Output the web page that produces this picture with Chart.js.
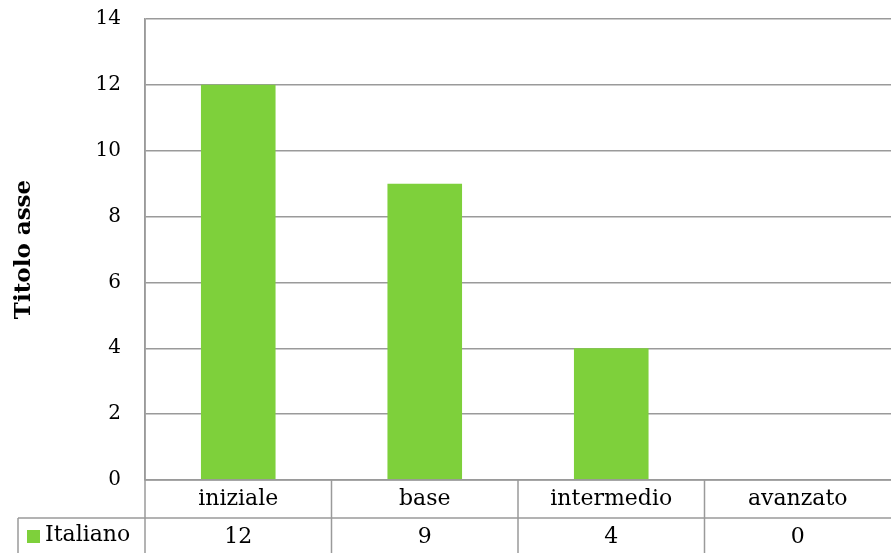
<!DOCTYPE html>
<html>
<head>
<meta charset="utf-8">
<script src="https://cdn.jsdelivr.net/npm/chart.js@4/dist/chart.umd.min.js"></script>
<style>
html,body{margin:0;padding:0;background:#fff;}
#wrap{width:891px;height:553px;position:relative;}
</style>
</head>
<body>
<div id="wrap"><canvas id="c" width="891" height="553"></canvas></div>
<script>
const categories = ['iniziale', 'base', 'intermedio', 'avanzato'];
const seriesName = 'Italiano';
const values = [12, 9, 4, 0];
const yTicks = [0, 2, 4, 6, 8, 10, 12, 14];
const axisTitle = 'Titolo asse';

const GREEN = '#7ED03B';
const LINE = '#9a9a9a';
const FONT = '"DejaVu Serif", "Liberation Serif", serif';

const tablePlugin = {
  id: 'dataTable',
  afterDraw(chart) {
    const ctx = chart.ctx;
    const x = chart.scales.x;
    const area = chart.chartArea;
    const n = categories.length;
    const half = (x.getPixelForValue(1) - x.getPixelForValue(0)) / 2;
    const row1Top = area.bottom;
    const row2Top = area.bottom + 38;
    const bottom = chart.height;
    ctx.save();
    ctx.strokeStyle = LINE;
    ctx.lineWidth = 1.5;
    ctx.beginPath();
    ctx.moveTo(area.left, row1Top); ctx.lineTo(area.right, row1Top);
    ctx.moveTo(18, row2Top); ctx.lineTo(area.right, row2Top);
    ctx.moveTo(18, row2Top); ctx.lineTo(18, bottom);
    ctx.moveTo(area.left, area.top); ctx.lineTo(area.left, bottom);
    for (let i = 0; i < n; i++) {
      const r = x.getPixelForValue(i) + half;
      if (r < area.right - 2) {
        ctx.moveTo(r, row1Top); ctx.lineTo(r, bottom);
      }
    }
    ctx.stroke();
    ctx.fillStyle = '#000';
    ctx.font = '22px ' + FONT;
    ctx.textAlign = 'center';
    ctx.textBaseline = 'middle';
    for (let i = 0; i < n; i++) {
      const cx = x.getPixelForValue(i);
      ctx.fillText(categories[i], cx, (row1Top + row2Top) / 2);
      ctx.fillText(String(values[i]), cx, (row2Top + bottom) / 2 + 2);
    }
    ctx.fillStyle = GREEN;
    ctx.fillRect(27, 530, 13, 13);
    ctx.fillStyle = '#000';
    ctx.textAlign = 'left';
    ctx.fillText(seriesName, 45, (row2Top + bottom) / 2);
    ctx.restore();
  }
};

new Chart(document.getElementById('c'), {
  type: 'bar',
  data: {
    labels: categories,
    datasets: [{
      label: seriesName,
      data: values,
      backgroundColor: GREEN,
      borderWidth: 0,
      categoryPercentage: 1.0,
      barPercentage: 0.4
    }]
  },
  options: {
    responsive: false,
    animation: false,
    events: [],
    layout: { padding: { top: 19, right: 0, bottom: 73, left: 0 } },
    plugins: { legend: { display: false }, tooltip: { enabled: false } },
    scales: {
      x: {
        display: true,
        grid: { display: false, drawTicks: false },
        border: { display: false },
        ticks: { display: false }
      },
      y: {
        min: 0, max: 14,
        afterFit(scale) { scale.width = 145; scale.paddingTop = 0; scale.paddingBottom = 0; },
        afterBuildTicks(scale) { scale.ticks = yTicks.map(v => ({ value: v })); },
        grid: { color: LINE, lineWidth: 1.5, drawTicks: false },
        border: { display: true, color: LINE, width: 1.5 },
        ticks: {
          color: '#000',
          font: { family: FONT, size: 20 },
          padding: 24
        },
        title: {
          display: true,
          text: axisTitle,
          color: '#000',
          font: { family: FONT, size: 23, weight: 'bold' },
          padding: { top: 10, bottom: 0 }
        }
      }
    }
  },
  plugins: [tablePlugin]
});
</script>
</body>
</html>
